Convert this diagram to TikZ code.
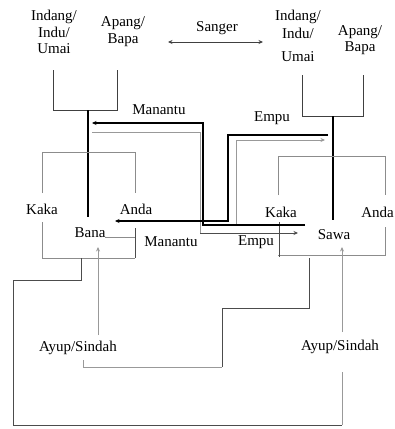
\documentclass[tikz,border=0pt]{standalone}
\usepackage{fontspec}
\setmainfont{Liberation Serif}
\usetikzlibrary{arrows.meta}
\tikzset{
  lbl/.style={inner sep=0.5pt, font=\fontsize{15}{15}\selectfont, align=center},
  blk/.style={draw=black, line width=1.3pt},
  dk/.style={draw=black!70, line width=1pt},
  par/.style={draw=black!75, line width=0.9pt},
  gry/.style={draw=black!40, line width=0.9pt},
  box/.style={draw=black!45, line width=0.9pt},
  tip/.style={-{Stealth[length=4.5pt,width=4pt]}},
}
\begin{document}
\begin{tikzpicture}[x=1pt,y=-1pt]
\useasboundingbox (0,0) rectangle (395,429);
% texts
\node[lbl] (il) at (54,32) {Indang/\\[2pt]Indu/\\[1pt]Umai};
\node[lbl] (al) at (123,32) {Apang/\\[2pt]Bapa};
\node[lbl] (sg) at (217,28) {Sanger};
\node[lbl] (ir) at (298,36) {Indang/\\[3pt]Indu/\\[8pt]Umai};
\node[lbl] (ar) at (360,40) {Apang/\\[1pt]Bapa};
\node[lbl] (mt) at (159,110) {Manantu};
\node[lbl] (et) at (272,118) {Empu};
\node[lbl] (kl) at (42,209) {Kaka};
\node[lbl] (anl) at (136,209) {Anda};
\node[lbl] (bana) at (90,233) {Bana};
\node[lbl] (mb) at (171,242) {Manantu};
\node[lbl] (eb) at (256,242) {Empu};
\node[lbl] (kr) at (281,212) {Kaka};
\node[lbl,anchor=east] (anr) at (394.5,212) {Anda};
\node[lbl] (sawa) at (334,235) {Sawa};
\node[lbl] (ayl) at (78,348) {Ayup/Sindah};
\node[lbl] (ayr) at (340,347) {Ayup/Sindah};
% Sanger arrow
\draw[par,{Stealth[length=4.5pt,width=4pt]}-{Stealth[length=4.5pt,width=4pt]}] (168,42) -- (263,42);
% parents
\draw[par] (53,70) -- (53,110) -- (117,110) -- (117,70);
\draw[blk] (88,110) -- (88,217);
\draw[par] (302,75) -- (302,116) -- (363,116) -- (363,75);
\draw[blk] (333,116) -- (333,220);
% sibling boxes
\draw[box] (42,193) -- (42,152) -- (135,152) -- (135,193);
\draw[box] (42,222) -- (42,258) -- (135,258);
\draw[dk] (135,228) -- (135,258);
\draw[box] (105,237) -- (135,237);
\draw[box] (278,195) -- (278,156) -- (385,156) -- (385,195);
\draw[box] (385,227) -- (385,255) -- (278,255);
\draw[dk] (279,222) -- (279,257);
% marriage paths
\draw[gry] (92,132) -- (200,132) -- (200,233);
\draw[dk,tip] (200,233) -- (298,233);
\draw[gry,tip] (236,225) -- (236,140) -- (325,140);
\draw[blk,tip] (305,225) -- (203,225) -- (203,123) -- (92,123);
\draw[blk,tip] (328,135) -- (228,135) -- (228,221) -- (115,221);
% bottom paths
\draw[gry,tip] (98,335) -- (98,247);
\draw[gry,tip] (342,332) -- (342,247);
\draw[dk] (309,258) -- (309,308) -- (222,308) -- (222,367);
\draw[gry] (222,367) -- (83,367) -- (83,360);
\draw[dk] (81,258) -- (81,280) -- (13,280) -- (13,425) -- (342,425);
\draw[gry] (342,425) -- (342,372);
\end{tikzpicture}
\end{document}
